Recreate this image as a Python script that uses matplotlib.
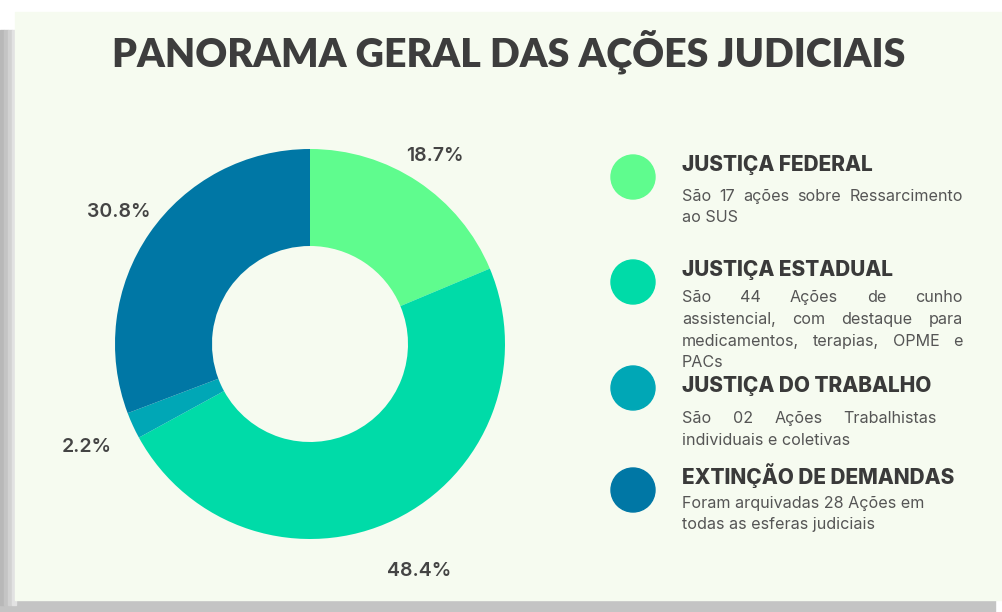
import matplotlib
matplotlib.use("Agg")
import matplotlib.pyplot as plt
from matplotlib.patches import Rectangle, Circle
import numpy as np

# dados
titulo = "PANORAMA GERAL DAS AÇÕES JUDICIAIS"
categorias = ["JUSTIÇA FEDERAL", "JUSTIÇA ESTADUAL", "JUSTIÇA DO TRABALHO", "EXTINÇÃO DE DEMANDAS"]
percentuais = [18.7, 48.4, 2.2, 30.8]
cores = ["#5ffc8e", "#00dba8", "#00a7b6", "#0077a5"]
descricoes = [
    ["São 17 ações sobre Ressarcimento", "ao SUS"],
    ["São 44 Ações de cunho", "assistencial, com destaque para",
     "medicamentos, terapias, OPME e", "PACs"],
    ["São 02 Ações Trabalhistas", "individuais e coletivas"],
    ["Foram arquivadas 28 Ações em", "todas as esferas judiciais"],
]

W, H = 1003, 612
fig = plt.figure(figsize=(W / 100, H / 100), dpi=100, facecolor="white")
ax = fig.add_axes([0, 0, 1, 1])
ax.set_xlim(0, W)
ax.set_ylim(0, H)
ax.axis("off")
renderer = fig.canvas.get_renderer()

def py(y):
    # pixel (de cima) -> coordenada do eixo
    return H - y

# cartão com sombra
ax.add_patch(Rectangle((0, py(612)), 995, 14, color="#c4c4c4", zorder=0))
for i, c in enumerate(["#b8b8b8", "#c4c4c4", "#d2d2d2", "#e2e2e2"]):
    ax.add_patch(Rectangle((i * 4, py(605)), 4, 575, color=c, zorder=0))
ax.add_patch(Rectangle((15, py(600)), W - 15, 588, color="#f6fbf0", zorder=1))

# título: fonte estreita ajustada para a largura do original (~792 px)
t = ax.text(509, py(52), titulo, ha="center", va="center", fontsize=30,
            family="Lato", weight="heavy", color="#3d3d3d", zorder=5)
larg = t.get_window_extent(renderer).width
t.set_fontsize(30 * 792 / larg)

# rosca
cx, cy, R = 310, py(344), 195
wedges, _ = ax.pie(percentuais, colors=cores, startangle=90, counterclock=False,
                   center=(cx, cy), radius=R,
                   wedgeprops=dict(width=97, linewidth=0), frame=True)
ax.set_xlim(0, W)
ax.set_ylim(0, H)
ax.axis("off")
for w in wedges:
    w.set_zorder(3)

raios_rot = [1.16, 1.29, 1.26, 1.19]
for w, p, r in zip(wedges, percentuais, raios_rot):
    ang = np.deg2rad((w.theta1 + w.theta2) / 2)
    ax.text(cx + r * R * np.cos(ang), cy + r * R * np.sin(ang), f"{p}%",
            ha="center", va="center", fontsize=14, family="Inter",
            weight="semibold", color="#444444", zorder=5)

# legenda
circ_y = [177, 282, 388, 490]
tit_y = [165, 270, 386, 476]
desc_y = [[196, 217], [297, 319, 341, 362], [418, 440], [503, 524]]
just_x = [963, 963, 937, None]
tx = 682

def linha(texto, y, direita):
    # y = centro da linha; desenha na linha de base
    kw = dict(va="baseline", fontsize=11.6, family="Inter", color="#555555", zorder=5)
    yb = y - 5
    if direita is None:
        ax.text(tx, yb, texto, ha="left", **kw)
        return
    palavras = texto.split()
    objs = [ax.text(0, yb, p, ha="left", **kw) for p in palavras]
    larg = [o.get_window_extent(renderer).width for o in objs]
    esp = (direita - tx - sum(larg)) / (len(palavras) - 1)
    x = tx
    for o, l in zip(objs, larg):
        o.set_x(x)
        x += l + esp

for i, cat in enumerate(categorias):
    ax.add_patch(Circle((633, py(circ_y[i])), 22, color=cores[i], zorder=4))
    ax.text(tx, py(tit_y[i]), cat, ha="left", va="center", fontsize=15,
            family="Inter", weight="heavy", color="#3a3a3a", zorder=5)
    for j, t in enumerate(descricoes[i]):
        ultima = j == len(descricoes[i]) - 1
        linha(t, py(desc_y[i][j]), None if ultima else just_x[i])

fig.savefig("out.png", dpi=100, facecolor="white")
